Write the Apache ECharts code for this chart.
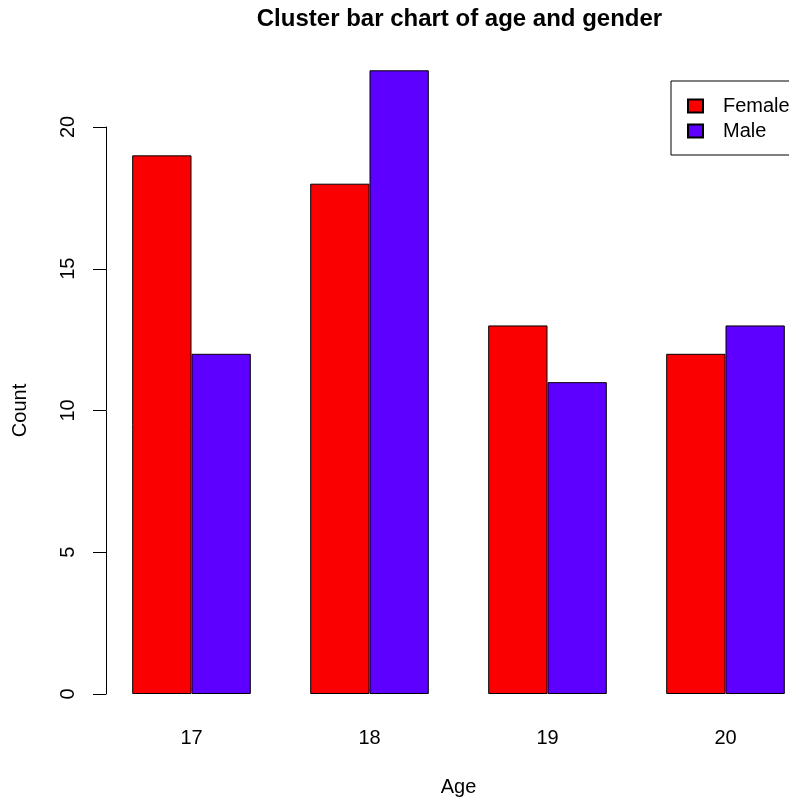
<!DOCTYPE html>
<html><head><meta charset="utf-8">
<script src="https://cdn.jsdelivr.net/npm/echarts@6/dist/echarts.min.js"></script>
<style>html,body{margin:0;padding:0;background:#fff}#c{width:789px;height:800px}</style>
</head><body><div id="c"></div>
<script>
const ages = ['17', '18', '19', '20'];
const female = [19, 18, 13, 12];
const male = [12, 22, 11, 13];
const yTicks = [0, 5, 10, 15, 20];

const FONT = 'Liberation Sans, Arial, Helvetica, sans-serif';
const chart = echarts.init(document.getElementById('c'), null, {renderer: 'canvas'});
chart.setOption({
  animation: false,
  backgroundColor: '#ffffff',
  textStyle: {fontFamily: FONT},
  title: {
    text: 'Cluster bar chart of age and gender',
    left: 459.5, top: 7, padding: 0, textAlign: 'center',
    textStyle: {fontFamily: FONT, fontSize: 24, fontWeight: 'bold', color: '#000'}
  },
  legend: {
    orient: 'vertical', left: 671, top: 81,
    padding: [15, 30, 14, 16], itemGap: 5,
    borderColor: '#000', borderWidth: 1, borderRadius: 0,
    icon: 'rect', itemWidth: 15, itemHeight: 13,
    textStyle: {fontFamily: FONT, fontSize: 20, color: '#000', padding: [0, 0, 0, 15]},
    data: ['Female', 'Male']
  },
  grid: {left: 102.5, top: 127, width: 712, height: 567, outerBoundsMode: 'none', containLabel: false},
  xAxis: {
    type: 'category', data: ages,
    name: 'Age', nameLocation: 'middle', nameGap: 83,
    nameTextStyle: {fontFamily: FONT, fontSize: 20, color: '#000'},
    axisLine: {show: false}, axisTick: {show: false},
    axisLabel: {fontFamily: FONT, fontSize: 20, color: '#000', margin: 34}
  },
  yAxis: {
    type: 'value', min: yTicks[0], max: yTicks[yTicks.length - 1], interval: 5,
    offset: -3.5,
    name: 'Count', nameLocation: 'middle', nameGap: 76, nameRotate: 90,
    nameTextStyle: {fontFamily: FONT, fontSize: 20, color: '#000'},
    axisLine: {show: true, lineStyle: {color: '#000', width: 1}},
    axisTick: {show: true, length: 13, lineStyle: {color: '#000', width: 1}},
    axisLabel: {fontFamily: FONT, fontSize: 20, color: '#000', rotate: 90, margin: 28},
    splitLine: {show: false}
  },
  series: [
    {name: 'Female', type: 'bar', data: female, barWidth: 59.3, barGap: '0%', clip: false,
     itemStyle: {color: '#FA0000', borderColor: '#000', borderWidth: 1}},
    {name: 'Male', type: 'bar', data: male, barWidth: 59.3, barGap: '0%', clip: false,
     itemStyle: {color: '#5D00FF', borderColor: '#000', borderWidth: 1}}
  ]
});
</script></body></html>
